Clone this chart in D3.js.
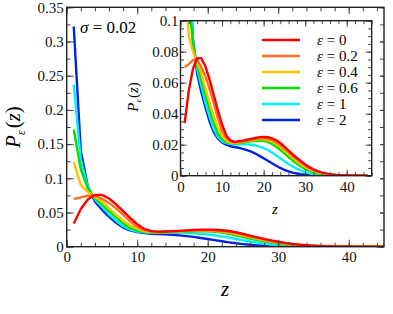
<!DOCTYPE html>
<html>
<head>
<meta charset="utf-8">
<script src="https://cdn.jsdelivr.net/npm/d3@7"></script>
<style>
  body { margin: 0; background: #fff; }
  svg { display: block; }
  svg text { font-family: "Liberation Serif", "Times New Roman", Times, serif; }
</style>
</head>
<body>
<svg id="chart" width="393" height="314"></svg>
<script>
// z sampled at integers 1..45
const zValues = d3.range(1, 46);

const epsLabels = ["0", "0.2", "0.4", "0.6", "1", "2"];
const colors = ["#ff0000", "#ff6e1e", "#ffc000", "#00e000", "#00f0ff", "#0022e6"];

const pRed = [.034,.055,.069,.0758,.0758,.0705,.062,.052,.042,.033,.026,.0228,.0218,.0222,.0226,.0232,.0238,.0244,.0249,.025,.0248,.0241,.023,.0211,.0187,.0162,.0137,.0114,.0093,.0073,.0055,.0041,.003,.0022,.0015,.001,.0007,.0004,.0003,.0002,.0001,.0001,0,0,0];
const pOrange = [.070,.072,.0745,.075,.070,.064,.056,.047,.037,.029,.0245,.0222,.0215,.0217,.0222,.0227,.0233,.0238,.0241,.0241,.0238,.0229,.0216,.0198,.0176,.0152,.0128,.0105,.0084,.0065,.0049,.0036,.0026,.0018,.0012,.0008,.0005,.0003,.0002,.0001,0,0,0,0,0];
const pYellow = [.124,.090,.080,.073,.066,.056,.047,.038,.031,.026,.0225,.0213,.021,.0213,.0218,.0223,.0228,.0233,.0235,.0235,.023,.022,.0205,.0186,.0163,.0139,.0115,.0093,.0073,.0056,.0042,.003,.0021,.0014,.0009,.0006,.0004,.0002,.0001,0,0,0,0,0,0];
const pGreen = [.171,.113,.085,.071,.062,.052,.043,.034,.027,.0235,.0215,.021,.0208,.021,.0213,.0218,.0222,.0225,.0227,.0225,.0218,.0205,.0188,.0167,.0144,.012,.0097,.0077,.0059,.0044,.0032,.0022,.0015,.001,.0006,.0004,.0002,.0001,0,0,0,0,0,0,0];
const pCyan = [.237,.127,.087,.069,.058,.047,.038,.030,.025,.0222,.021,.0205,.0203,.0203,.0203,.0202,.020,.0195,.0187,.0178,.0166,.015,.0132,.0113,.0094,.0076,.006,.0045,.0033,.0023,.0015,.001,.0006,.0003,.0002,.0001,0,0,0,0,0,0,0,0,0];
const pBlue = [.322,.140,.088,.066,.054,.044,.035,.028,.024,.0215,.020,.019,.0185,.018,.0173,.0165,.0155,.0143,.0128,.0112,.0096,.008,.0064,.005,.0038,.0028,.002,.0014,.001,.0007,.0004,.0002,.0001,0,0,0,0,0,0,0,0,0,0,0,0];

const seriesValues = [pRed, pOrange, pYellow, pGreen, pCyan, pBlue];

const mainXTicks = [0, 10, 20, 30, 40];
const mainYTicks = [0, 0.05, 0.1, 0.15, 0.2, 0.25, 0.3, 0.35];
const insetXTicks = [0, 10, 20, 30, 40];
const insetYTicks = [0, 0.02, 0.04, 0.06, 0.08, 0.1];

const svg = d3.select("#chart");
const serif = '"Liberation Serif", "Times New Roman", Times, serif';
const fmt = (d) => (d === 0 ? "0" : String(+d.toFixed(3)));

const series = seriesValues.map((vals, i) => ({
  eps: epsLabels[i],
  color: colors[i],
  points: zValues.map((z, j) => ({ z: z, p: vals[j] }))
}));

// one side of a framed box, ticks pointing inward
function addAxis(g, maker, scale, transform, values, size, labels, pad, fontSize) {
  const ax = maker(scale)
    .tickValues(values)
    .tickSize(-size)
    .tickPadding(pad)
    .tickFormat(labels ? fmt : "");
  const a = g.append("g").attr("transform", transform).call(ax);
  a.attr("font-family", null).attr("font-size", null);
  a.select(".domain").remove();
  a.selectAll("line").attr("stroke", "#444").attr("stroke-width", 1);
  a.selectAll("text")
    .attr("fill", "#111")
    .style("font-family", serif)
    .style("font-size", fontSize + "px");
  return a;
}

function framedPlot(g, x, y, o) {
  const [xl, xr] = x.range();
  const [yb, yt] = y.range();
  const sides = [
    [d3.axisBottom, x, `translate(0,${yb})`, o.xMajor, o.xMinor, true, o.xPad],
    [d3.axisTop, x, `translate(0,${yt})`, o.xMajor, o.xMinor, false, 0],
    [d3.axisLeft, y, `translate(${xl},0)`, o.yMajor, o.yMinor, true, o.yPad],
    [d3.axisRight, y, `translate(${xr},0)`, o.yMajor, o.yMinor, false, 0]
  ];
  sides.forEach(([maker, sc, tr, major, minor, lab, pad]) => {
    addAxis(g, maker, sc, tr, minor, o.minorLen, false, 0, o.font);
    addAxis(g, maker, sc, tr, major, o.majorLen, lab, pad, o.font);
  });
  g.append("rect")
    .attr("x", xl).attr("y", yt)
    .attr("width", xr - xl).attr("height", yb - yt)
    .attr("fill", "none")
    .attr("stroke", "#222")
    .attr("stroke-width", 1.4);
}

function drawCurves(g, x, y, id) {
  const [xl, xr] = x.range();
  const [yb, yt] = y.range();
  svg.append("clipPath").attr("id", id)
    .append("rect")
    .attr("x", xl).attr("y", yt)
    .attr("width", xr - xl).attr("height", yb - yt);
  const line = d3.line().x((d) => x(d.z)).y((d) => y(d.p));
  g.append("g")
    .attr("clip-path", `url(#${id})`)
    .selectAll("path")
    .data(series.slice().reverse())
    .join("path")
    .attr("d", (d) => line(d.points))
    .attr("fill", "none")
    .attr("stroke", (d) => d.color)
    .attr("stroke-width", 2.4)
    .attr("stroke-linejoin", "round");
}

// ---- main plot ----
const x = d3.scaleLinear().domain([0, 45]).range([66.7, 384]);
const y = d3.scaleLinear().domain([0, 0.35]).range([246.7, 7.3]);
const main = svg.append("g");
drawCurves(main, x, y, "clipMain");
framedPlot(main, x, y, {
  xMajor: mainXTicks, xMinor: d3.range(0, 46, 2),
  yMajor: mainYTicks, yMinor: d3.range(0, 0.351, 0.025),
  majorLen: 7, minorLen: 4, xPad: 5, yPad: 3, font: 15
});

main.append("text")
  .attr("x", 80).attr("y", 33)
  .style("font-size", "17px")
  .html('<tspan font-style="italic">σ</tspan> = 0.02');

main.append("text")
  .attr("x", 225).attr("y", 296)
  .attr("text-anchor", "middle")
  .style("font-size", "21px")
  .style("font-style", "italic")
  .text("z");

main.append("text")
  .attr("transform", "translate(20,127) rotate(-90)")
  .attr("text-anchor", "middle")
  .style("font-size", "21px")
  .html('<tspan font-style="italic">P</tspan><tspan font-style="italic" font-size="12px" dy="5">ε</tspan><tspan dy="-5" dx="2">(</tspan><tspan font-style="italic">z</tspan><tspan>)</tspan>');

// ---- inset ----
const xi = d3.scaleLinear().domain([0, 46]).range([180.5, 371.7]);
const yi = d3.scaleLinear().domain([0, 0.1]).range([175.7, 20.7]);
const inset = svg.append("g");
inset.append("rect")
  .attr("x", 150).attr("y", 14)
  .attr("width", 230).attr("height", 205)
  .attr("fill", "#fff");
drawCurves(inset, xi, yi, "clipInset");
framedPlot(inset, xi, yi, {
  xMajor: insetXTicks, xMinor: d3.range(0, 47, 2),
  yMajor: insetYTicks, yMinor: d3.range(0, 0.1001, 0.005),
  majorLen: 6, minorLen: 3.5, xPad: 6, yPad: 2, font: 15
});

inset.append("text")
  .attr("x", 275).attr("y", 214)
  .attr("text-anchor", "middle")
  .style("font-size", "15px")
  .style("font-style", "italic")
  .text("z");

inset.append("text")
  .attr("transform", "translate(138,97) rotate(-90)")
  .attr("text-anchor", "middle")
  .style("font-size", "15px")
  .html('<tspan font-style="italic">P</tspan><tspan font-style="italic" font-size="9px" dy="3">ε</tspan><tspan dy="-3" dx="1">(</tspan><tspan font-style="italic">z</tspan><tspan>)</tspan>');

// ---- legend ----
const legend = inset.append("g")
  .selectAll("g")
  .data(series)
  .join("g")
  .attr("transform", (d, i) => `translate(262,${40 + i * 16})`);
legend.append("line")
  .attr("x1", 0).attr("x2", 38)
  .attr("stroke", (d) => d.color)
  .attr("stroke-width", 2.6);
legend.append("text")
  .attr("x", 55).attr("y", 5)
  .style("font-size", "15px")
  .html((d) => `<tspan font-style="italic">ε</tspan> = ${d.eps}`);
</script>
</body>
</html>
